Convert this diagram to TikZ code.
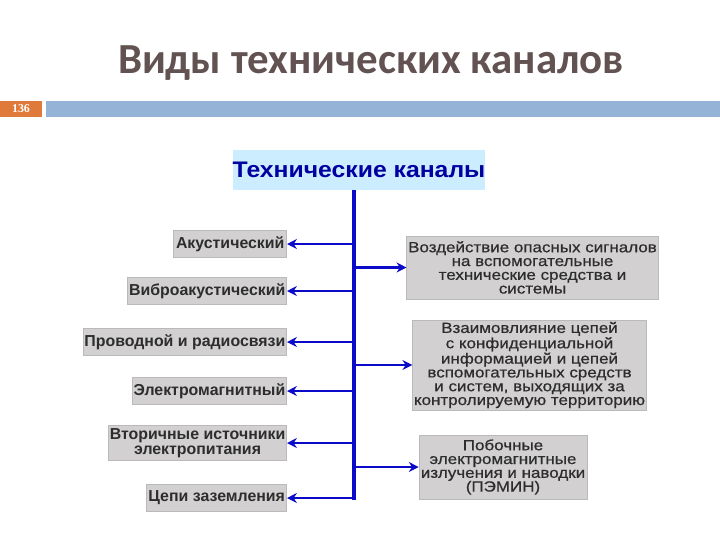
\documentclass[tikz,border=0pt]{standalone}
\usepackage{fontspec}
\setmainfont{Liberation Sans}
\newfontfamily\titlefont{Carlito}
\newfontfamily\wideFont[FakeStretch=1.15,FakeBold=0.6]{Liberation Sans}
\newfontfamily\headFont[FakeStretch=1.1]{Liberation Sans}
\newfontfamily\numfont{Liberation Serif}
\usepackage{tikz}
\usetikzlibrary{arrows.meta,positioning}
\definecolor{titleBrown}{RGB}{98,82,82}
\definecolor{pageOrange}{RGB}{224,122,58}
\definecolor{barBlue}{RGB}{149,179,215}
\definecolor{headBlue}{RGB}{204,236,255}
\definecolor{headText}{RGB}{0,0,160}
\definecolor{lineBlue}{RGB}{10,10,200}
\definecolor{boxGray}{RGB}{210,208,208}
\definecolor{boxEdge}{RGB}{185,185,190}
\definecolor{textGray}{RGB}{45,45,45}
\newcommand{\px}{0.025cm}
\tikzset{
  headbox/.style={
    rectangle, fill=headBlue, text=headText, inner xsep=0pt, inner ysep=0pt,
    minimum width=247*\px, minimum height=40*\px,
    font=\headFont\fontsize{16}{18}\selectfont\bfseries
  },
  channelbox/.style={
    rectangle, fill=boxGray, draw=boxEdge, text=textGray, align=center,
    inner xsep=1pt, inner ysep=0pt, minimum height=27*\px,
    font=\fontsize{11.3}{10.5}\selectfont\bfseries
  },
  effectbox/.style={
    rectangle, fill=boxGray, draw=boxEdge, text=textGray, align=center,
    inner xsep=1pt, inner ysep=0pt,
    font=\wideFont\fontsize{10.5}{9.8}\selectfont
  },
  trunkLine/.style={line width=2.2pt, draw=lineBlue},
  blueArrow/.style={-{Stealth[length=7pt,width=7pt]}, line width=2pt, draw=lineBlue}
}
\begin{document}
\begin{tikzpicture}[x=0.025cm, y=-0.025cm]
  \fill[white] (0,0) rectangle (720,540);
  \useasboundingbox (0,0) rectangle (720,540);
  % slide header
  \node[anchor=base, text=titleBrown, font=\titlefont\fontsize{30.5}{36}\selectfont\bfseries]
    (title) at (371,73) {Виды технических каналов};
  \node[rectangle, fill=pageOrange, text=white, inner sep=0pt,
        minimum width=42*\px, minimum height=16*\px,
        font=\numfont\fontsize{8.5}{9}\selectfont\bfseries] (num) at (21,109) {136};
  \fill[barBlue] (46,101) rectangle (720,117);
  % root
  \node[headbox] (tk) at (359,170) {Технические каналы};
  \coordinate (trunkEnd) at (354,500);
  % channels on the left
  \node[channelbox, minimum width=113*\px, anchor=east] (ak) at (287,244) {Акустический};
  \node[channelbox, minimum width=154*\px, anchor=east] (vb) at (287,291) {Виброакустический};
  \node[channelbox, minimum width=194*\px, anchor=east] (pr) at (287,342) {Проводной и радиосвязи};
  \node[channelbox, minimum width=150*\px, anchor=east] (em) at (287,391) {Электромагнитный};
  \node[channelbox, minimum width=174*\px, minimum height=35*\px, anchor=east] (vi) at (287,443)
    {Вторичные источники\\электропитания};
  \node[channelbox, minimum width=140*\px, anchor=east] (cz) at (287,498) {Цепи заземления};
  % channels on the right
  \node[effectbox, minimum width=239*\px, minimum height=63*\px] (vz) at (532.5,267.5)
    {Воздействие опасных сигналов\\на вспомогательные\\технические средства и\\системы};
  \node[effectbox, minimum width=225*\px, minimum height=90*\px] (vm) at (529.5,365)
    {Взаимовлияние цепей\\с конфиденциальной\\информацией и цепей\\вспомогательных средств\\и систем, выходящих за\\контролируемую территорию};
  \node[effectbox, minimum width=168*\px, minimum height=64*\px] (pe) at (503,467)
    {Побочные\\электромагнитные\\излучения и наводки\\(ПЭМИН)};
  % connectors
  \draw[trunkLine] (tk.south -| trunkEnd) -- (trunkEnd);
  \foreach \n in {ak,vb,pr,em,vi,cz}
    \draw[blueArrow] (trunkEnd |- \n.east) -- (\n.east);
  \foreach \n in {vz,vm,pe}
    \draw[blueArrow] (trunkEnd |- \n.west) -- (\n.west);
\end{tikzpicture}
\end{document}
